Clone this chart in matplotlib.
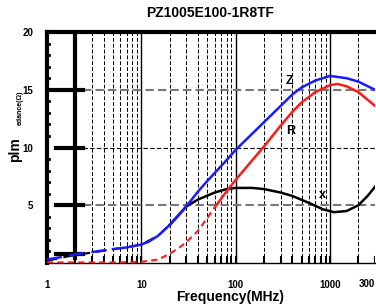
import numpy as np
import matplotlib
matplotlib.use("Agg")
import matplotlib.pyplot as plt

plt.rcParams.update({"font.family": "Liberation Sans", "font.weight": "bold"})

# values (MHz, ohm)
freq_z = [1, 1.5, 2, 3, 5, 7, 10, 12, 15, 20, 25, 30, 40, 50, 60, 80, 100, 150, 200, 300, 400,
          500, 700, 1000, 1500, 2000, 3000]
z_vals = [0.3, 0.55, 0.75, 0.95, 1.2, 1.35, 1.6, 1.85, 2.35, 3.3, 4.15, 4.9, 6.2, 7.1, 7.8, 8.9,
          9.8, 11.2, 12.2, 13.6, 14.6, 15.2, 15.8, 16.2, 16.0, 15.7, 15.0]

freq_r = [1, 5, 10, 15, 20, 25, 30, 40, 50, 60, 72, 80, 100, 150, 200, 300, 400, 500, 700, 1000,
          1200, 1500, 2000, 3000]
r_vals = [0.05, 0.05, 0.1, 0.3, 0.8, 1.3, 1.8, 2.8, 3.9, 4.8, 5.7, 6.2, 7.2, 8.9, 10.1, 11.9, 13.1,
          13.9, 14.8, 15.4, 15.5, 15.3, 14.8, 13.6]

freq_x = [1, 2, 3, 5, 7, 10, 15, 20, 30, 40, 60, 80, 100, 150, 200, 300, 400, 600, 840, 1100,
          1500, 2000, 2500, 3000]
x_vals = [0.2, 0.7, 0.9, 1.2, 1.35, 1.6, 2.35, 3.3, 4.9, 5.5, 6.1, 6.4, 6.5, 6.5, 6.4, 6.1, 5.8,
          5.2, 4.65, 4.4, 4.5, 5.0, 5.8, 6.6]

title = "PZ1005E100-1R8TF"
xtick_vals = [1, 10, 100, 1000]
xtick_text = ["1", "10", "100", "1000"]
ytick_vals = [5, 10, 15, 20]

fig = plt.figure(figsize=(3.76, 3.07), dpi=100)
ax = fig.add_axes([47 / 376, 44 / 307, 328 / 376, 231 / 307])
ax.set_xscale("log")
ax.set_xlim(1, 3000)
ax.set_ylim(0, 20)

# vertical grid: solid at decades, dashed at the minors
for k in range(4):
    for m in range(1, 10):
        f = m * 10 ** k
        if f <= 1 or f > 3000:
            continue
        if m == 1:
            ax.axvline(f, color="black", lw=1.0, zorder=1)
        elif f == 2:
            ax.plot([f, f], [0.4, 20], color="black", lw=3.0, zorder=1)
        else:
            ax.axvline(f, color="black", lw=0.7, ls=(0, (4, 2)), zorder=1)
        ax.plot([f, f], [0, 0.5], color="black", lw=1.5, zorder=2)

# horizontal grid
ax.plot([2.4, 3000], [15, 15], color="#777777", lw=1.5, ls=(0, (4, 2)), zorder=1)
ax.plot([2.4, 3000], [5, 5], color="#777777", lw=1.5, ls=(0, (4, 2)), zorder=1)
ax.plot([2.4, 3000], [10, 10], color="black", lw=0.8, ls=(0, (4, 2)), zorder=1)

# heavy tick bars on the left
ax.plot([1, 2.4], [15, 15], color="black", lw=3.0, zorder=2)
for yv in [10, 5, 0.8]:
    ax.plot([1.25, 2.4], [yv, yv], color="black", lw=3.0, zorder=2)
for yv in range(1, 20):
    if yv % 5:
        ax.plot([1.0, 1.05], [yv, yv], color="black", lw=2.0, zorder=2)

# curves
fz, zv = np.array(freq_z), np.array(z_vals)
ax.plot(fz[fz <= 5], zv[fz <= 5], color="#1a1aff", lw=1.8, ls=(0, (6, 3)), zorder=4)
ax.plot(fz[fz >= 5], zv[fz >= 5], color="#1a1aff", lw=1.8, zorder=4)

fr, rv = np.array(freq_r), np.array(r_vals)
ax.plot(fr[fr <= 60], rv[fr <= 60], color="#ff1a1a", lw=1.5, ls=(0, (3, 2)), zorder=4)
ax.plot(fr[fr >= 60], rv[fr >= 60], color="#ff1a1a", lw=1.8, zorder=4)

fx, xv = np.array(freq_x), np.array(x_vals)
ax.plot(fx[fx <= 20], xv[fx <= 20], color="black", lw=1.5, ls=(0, (5, 3)), zorder=3)
ax.plot(fx[fx >= 20], xv[fx >= 20], color="black", lw=1.8, zorder=3)

ax.text(340, 15.5, "Z", fontsize=9, fontweight="bold")
ax.text(340, 11.2, "R", fontsize=9, fontweight="bold")
ax.text(770, 5.6, "x", fontsize=9, fontweight="bold")

# frame
ax.spines["right"].set_visible(False)
ax.spines["left"].set_linewidth(3.0)
ax.spines["top"].set_linewidth(3.0)
ax.spines["bottom"].set_linewidth(1.0)

ax.set_xticks(xtick_vals)
ax.set_xticklabels(xtick_text)
ax.xaxis.set_minor_locator(matplotlib.ticker.NullLocator())
ax.set_yticks(ytick_vals)
ax.set_yticklabels([str(v) for v in ytick_vals])
ax.tick_params(axis="both", length=0, labelsize=7, pad=12)
ax.tick_params(axis="y", pad=10)
for lab in ax.get_xticklabels() + ax.get_yticklabels():
    lab.set_fontweight("bold")

fig.text(375 / 376, 1 - 284 / 307, "300", ha="right", va="center", fontsize=7, fontweight="bold")
fig.text(210 / 376, 1 - 13 / 307, title, ha="center", va="center", fontsize=10, fontweight="bold")
fig.text(230 / 376, 1 - 297 / 307, "Frequency(MHz)", ha="center", va="center", fontsize=10, fontweight="bold")
fig.text(15 / 376, 1 - 150 / 307, "plm", ha="center", va="center", rotation=90, fontsize=10, fontweight="bold")
fig.text(20 / 376, 1 - 108 / 307, "edance(Ω)", ha="center", va="center", rotation=90, fontsize=5, fontweight="bold")

fig.savefig("out.png", dpi=100)
